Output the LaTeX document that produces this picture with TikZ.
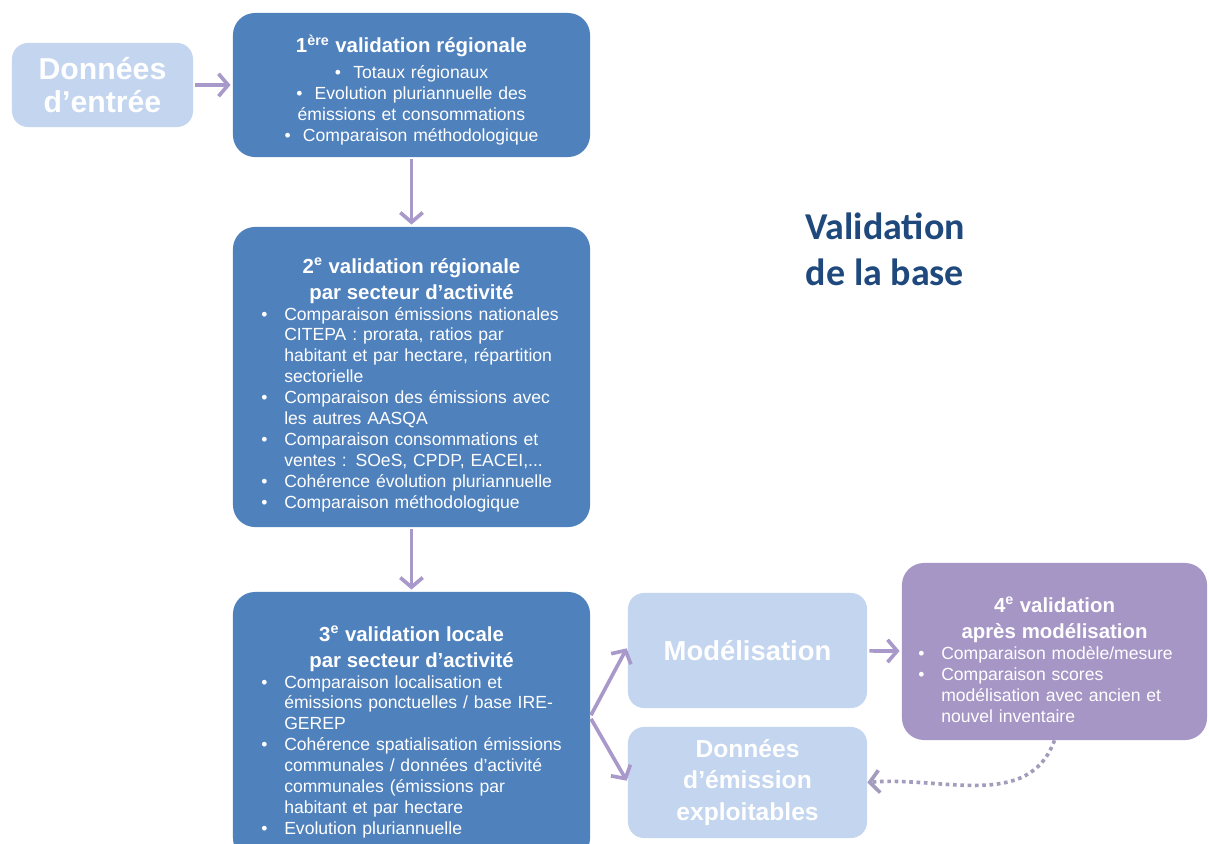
\documentclass[tikz,border=0pt]{standalone}
\usepackage{fontspec}
\setmainfont{Liberation Sans}
\newfontfamily\titrefont{Carlito}
\usepackage{xcolor}
\usetikzlibrary{arrows.meta}
\definecolor{bleubox}{HTML}{4F81BD}
\definecolor{bleuclair}{HTML}{C3D5EF}
\definecolor{violetbox}{HTML}{A696C6}
\definecolor{violetfleche}{HTML}{A899CA}
\definecolor{grisviolet}{HTML}{A49CBC}
\definecolor{bleutitre}{HTML}{1F497D}
\tikzset{etape/.style={fill=bleubox,rounded corners=.55cm,text=white,inner sep=0pt,align=left,font=\fontsize{12.5}{14.9}\selectfont},
clair/.style={fill=bleuclair,rounded corners=.4cm,text=white,inner sep=0pt,align=center,font=\bfseries\fontsize{20}{24}\selectfont},
fleche/.style={-{Straight Barb[length=2.4mm,width=5.6mm]},line width=2.6pt,violetfleche,shorten >=1.5pt,shorten <=1.5pt},
pointille/.style={-{Straight Barb[length=2.4mm,width=5.6mm]},line width=2.6pt,grisviolet,dash pattern=on 2.6pt off 2.6pt}}
\newcommand{\titrebox}[2][0pt]{{\centering\bfseries\fontsize{14.5}{18.4}\selectfont\rule{0pt}{\dimexpr 11pt+#1\relax}#2\par}}
\newcommand{\puce}[1]{\par\hangindent=.92cm\hangafter=1\noindent\makebox[.92cm][l]{\hspace{.35cm}\textbullet}#1\par}

\begin{document}
\begin{tikzpicture}[x=0.025cm,y=-0.025cm]
\useasboundingbox (0,0) rectangle (1209,843);
\clip (0,0) rectangle (1209,843);
% colonne de gauche
\node[clair,font=\bfseries\fontsize{21.5}{24}\selectfont,minimum width=4.525cm,minimum height=2.1cm] (entree) at (102.5,85) {Données\\d’entrée};
\node[etape,align=center,text width=8.3cm,minimum width=8.925cm,minimum height=3.6cm] (val1) at (411.5,85) {\titrebox[.3cm]{1\textsuperscript{ère} validation régionale}
\rule{0pt}{14pt}\textbullet\hspace{.7em}Totaux régionaux\\
\textbullet\hspace{.7em}Evolution pluriannuelle des\\
émissions et consommations\\
\textbullet\hspace{.7em}Comparaison méthodologique};
\node[etape,text width=8.2cm,minimum width=8.925cm,minimum height=7.5cm] (val2) at (411.5,377) {\titrebox[.4cm]{2\textsuperscript{e} validation régionale\\par secteur d’activité}
\puce{Comparaison émissions nationales\newline CITEPA : prorata, ratios par\newline habitant et par hectare, répartition\newline sectorielle}
\puce{Comparaison des émissions avec\newline les autres AASQA}
\puce{Comparaison consommations et\newline ventes : SOeS, CPDP, EACEI,...}
\puce{Cohérence évolution pluriannuelle}
\puce{Comparaison méthodologique}};
\node[etape,text width=8.2cm,minimum width=8.925cm,minimum height=6.7cm] (val3) at (411.5,726) {\titrebox[.3cm]{3\textsuperscript{e} validation locale\\par secteur d’activité}
\puce{Comparaison localisation et\newline émissions ponctuelles / base IRE-\newline GEREP}
\puce{Cohérence spatialisation émissions\newline communales / données d’activité\newline communales (émissions par\newline habitant et par hectare}
\puce{Evolution pluriannuelle}};
% sorties
\node[clair,font=\bfseries\fontsize{19.5}{24}\selectfont,minimum width=5.975cm,minimum height=2.875cm] (model) at (747.5,650.5) {Modélisation};
\node[clair,font=\bfseries\fontsize{17.5}{22.3}\selectfont,minimum width=5.975cm,minimum height=2.775cm] (donnees) at (747.5,782.5) {Données\\d’émission\\exploitables};
\node[etape,fill=violetbox,text width=7.5cm,minimum width=7.625cm,minimum height=4.425cm] (val4) at (1054.5,651.5) {\titrebox[.4cm]{4\textsuperscript{e} validation\\après modélisation}
\puce{Comparaison modèle/mesure}
\puce{Comparaison scores\newline modélisation avec ancien et\newline nouvel inventaire}};
\node[font=\titrefont\bfseries\fontsize{27}{32.6}\selectfont,text=bleutitre,align=center] (titre) at (885,249) {Validation\\de la base};
% fleches
\coordinate (fourche) at (590,717);
\draw[fleche] (entree) -- (val1);
\draw[fleche] (val1) -- (val2);
\draw[fleche] (val2) -- (val3);
\draw[fleche] (fourche) -- ([yshift=.1cm]model.west);
\draw[fleche] (fourche) -- (donnees.west);
\draw[fleche] (model) -- (val4);
\draw[pointille] (val4.south) to[out=-110,in=5] (donnees.east);
\end{tikzpicture}
\end{document}
